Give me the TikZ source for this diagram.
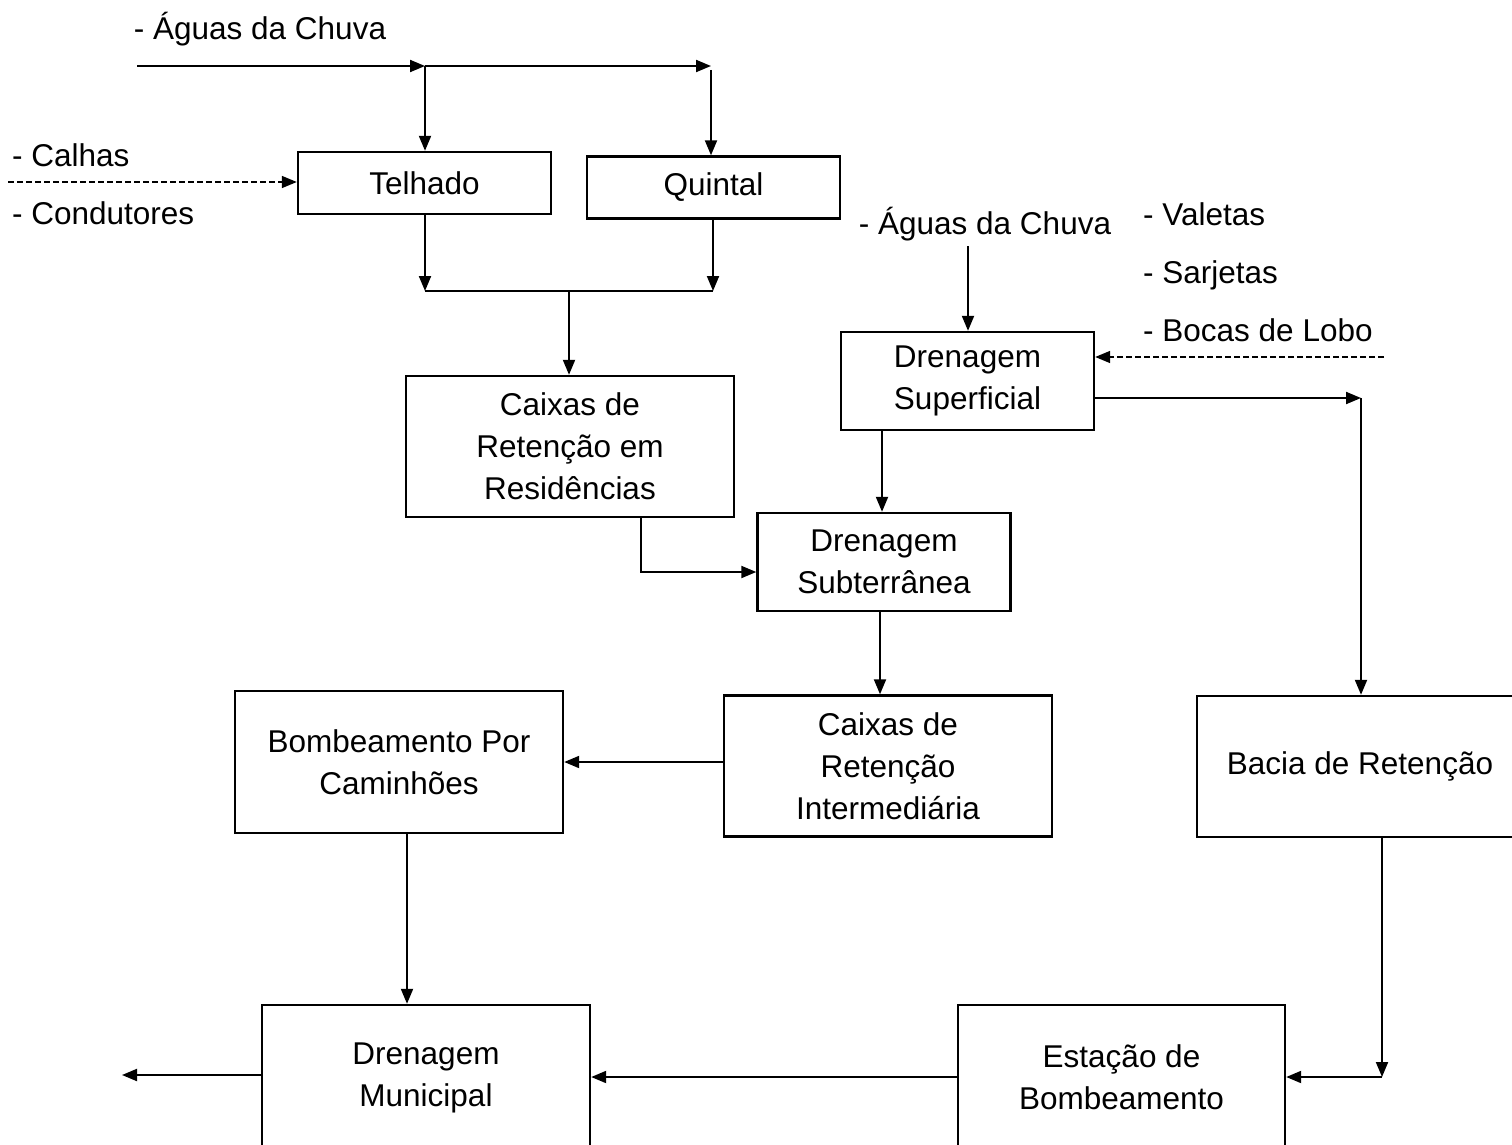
\documentclass[tikz,border=0pt]{standalone}
\usepackage{fontspec}
\setmainfont{Liberation Sans}
\usetikzlibrary{arrows.meta}
\begin{document}
\begin{tikzpicture}[x=1pt,y=-1pt,
  font=\fontsize{31.5}{42}\selectfont,
  box/.style={draw,line width=2.4pt,align=center,inner sep=0pt},
  lbl/.style={inner sep=0pt,text height=22.5pt,text depth=0pt},
  arr/.style={line width=2pt,-{Triangle[length=15pt,width=12pt]}},
  plain/.style={line width=2pt},
  dasharr/.style={line width=1.6pt,dash pattern=on 6pt off 3pt,-{Triangle[length=15pt,width=12pt]}}]
\useasboundingbox (0,0) rectangle (1512,1145);
\clip (0,0) rectangle (1512,1145);
\fill[white] (0,0) rectangle (1512,1145);

% boxes
\node[box,minimum width=253pt,minimum height=62pt] (tel) at (424.5,183) {Telhado};
\node[box,minimum width=253pt,minimum height=62pt] (qui) at (713.5,187.5) {Quintal};
\node[box,minimum width=328pt,minimum height=141pt] (res) at (570,446.5) {Caixas de\\Retenção em\\Residências};
\node[box,minimum width=253pt,minimum height=98pt] (sup) at (967.5,381) {Drenagem\\Superficial};
\node[box,minimum width=253pt,minimum height=98pt] (sub) at (884,562) {Drenagem\\Subterrânea};
\node[box,minimum width=328pt,minimum height=141pt] (inter) at (888,766) {Caixas de\\Retenção\\Intermediária};
\node[box,minimum width=328pt,minimum height=142pt] (bomb) at (399,762) {Bombeamento Por\\Caminhões};
\node[box,minimum width=326pt,minimum height=141pt] (bac) at (1360,766.5) {Bacia de Retenção};
\node[box,minimum width=328pt,minimum height=145pt] (mun) at (426,1077.5) {Drenagem\\Municipal};
\node[box,minimum width=327pt,minimum height=145pt] (est) at (1121.5,1077.5) {Estação de\\Bombeamento};

% free labels
\node[lbl] (ag1) at (260,28) {- Águas da Chuva};
\node[lbl,anchor=west] (cal) at (12,155) {- Calhas};
\node[lbl,anchor=west] (con) at (12,213) {- Condutores};
\node[lbl] (ag2) at (985,223) {- Águas da Chuva};
\node[lbl,anchor=west] (val) at (1143,214) {- Valetas};
\node[lbl,anchor=west] (sar) at (1143,272) {- Sarjetas};
\node[lbl,anchor=west] (boc) at (1143,330) {- Bocas de Lobo};

% coordinates
\coordinate (r0) at (137,66);
\coordinate (r1) at (425,66);
\coordinate (r2) at (711,66);
\coordinate (r2b) at (711,70);
\coordinate (c0) at (8,182);
\coordinate (j1) at (425,291);
\coordinate (j2) at (713,291);
\coordinate (j3) at (569,291);
\coordinate (k) at (641,572);
\coordinate (a2) at (968,246);
\coordinate (d0) at (1384,357);
\coordinate (b1) at (1361,398);
\coordinate (s1) at (882,0);
\coordinate (s2) at (880,0);
\coordinate (s3) at (407,0);
\coordinate (m0) at (122,1075);
\coordinate (e1) at (1382,1077);

% connectors
\draw[arr] (r0) -- (r1);
\draw[arr] (r1) -- (r2);
\draw[arr] (r1) -- (r1 |- tel.north);
\draw[arr] (r2b) -- (r2b |- qui.north);
\draw[dasharr] (c0) -- (c0 -| tel.west);
\draw[arr] (j1 |- tel.south) -- (j1);
\draw[arr] (j2 |- qui.south) -- (j2);
\draw[plain] (j1) -- (j2);
\draw[arr] (j3) -- (j3 |- res.north);
\draw[arr] (k |- res.south) -- (k) -- (k -| sub.west);
\draw[arr] (a2) -- (a2 |- sup.north);
\draw[dasharr] (d0) -- (d0 -| sup.east);
\draw[arr] (b1 -| sup.east) -- (b1);
\draw[arr] (b1) -- (b1 |- bac.north);
\draw[arr] (s1 |- sup.south) -- (s1 |- sub.north);
\draw[arr] (s2 |- sub.south) -- (s2 |- inter.north);
\draw[arr] (inter.west |- 0,762) -- (bomb.east |- 0,762);
\draw[arr] (s3 |- bomb.south) -- (s3 |- mun.north);
\draw[arr] (mun.west |- m0) -- (m0);
\draw[arr] (est.west |- e1) -- (mun.east |- e1);
\draw[arr] (e1 |- bac.south) -- (e1);
\draw[arr] (e1) -- (e1 -| est.east);
\end{tikzpicture}
\end{document}
